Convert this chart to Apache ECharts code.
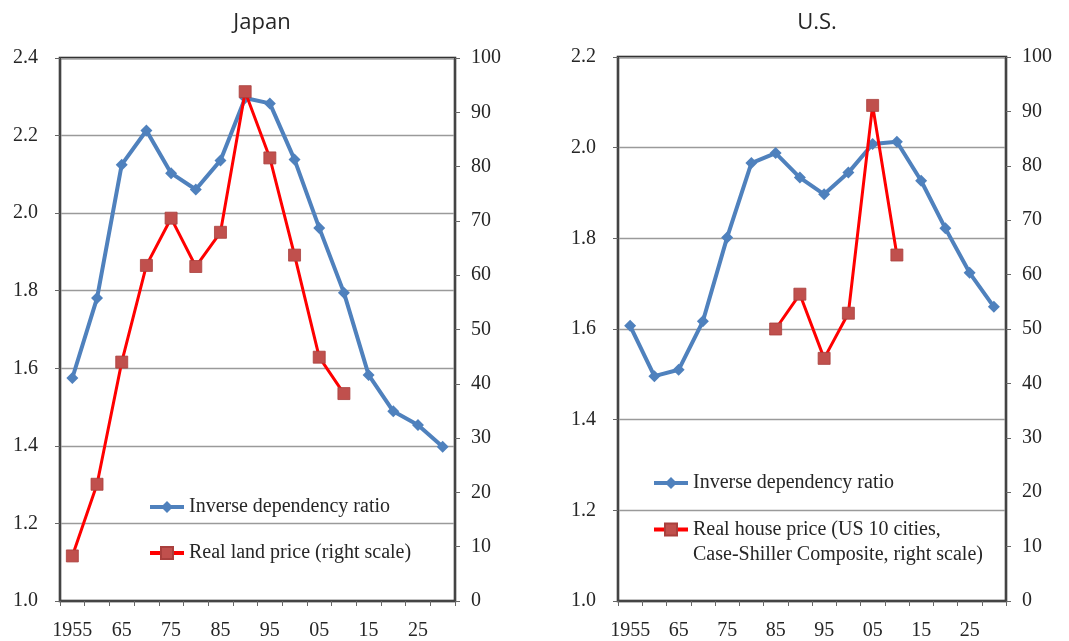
<!DOCTYPE html>
<html>
<head>
<meta charset="utf-8">
<script src="https://cdn.jsdelivr.net/npm/echarts@6/dist/echarts.min.js"></script>
<style>
html,body{margin:0;padding:0;background:#fff;}
#chart{width:1069px;height:641px;}
</style>
</head>
<body>
<div id="chart"></div>
<script>
// ---- data ----
const years = [1955,1960,1965,1970,1975,1980,1985,1990,1995,2000,2005,2010,2015,2020,2025,2030];
const yearLabels = ['1955','','65','','75','','85','','95','','05','','15','','25',''];
const titles = ['Japan', 'U.S.'];

const japanDependency = [1.575,1.781,2.125,2.213,2.103,2.061,2.136,2.297,2.283,2.138,1.962,1.795,1.583,1.489,1.454,1.398];
const japanLandPrice  = [8.3,21.5,44.0,61.8,70.5,61.6,67.9,93.8,81.6,63.7,44.9,38.2,null,null,null,null];

const usDependency = [1.607,1.496,1.51,1.617,1.802,1.966,1.988,1.934,1.897,1.945,2.008,2.013,1.927,1.822,1.724,1.649];
const usHousePrice = [null,null,null,null,null,null,50.0,56.4,44.6,52.9,91.1,63.6,null,null,null,null];

const nameDep = 'Inverse dependency ratio';
const nameLand = 'Real land price (right scale)';
const nameHouse = 'Real house price (US 10 cities,\nCase-Shiller Composite, right scale)';

const leftScales = [{min:1.0,max:2.4,interval:0.2},{min:1.0,max:2.2,interval:0.2}];
const rightScale = {min:0,max:100,interval:10};

// ---- style ----
const serif = '"Liberation Serif", "DejaVu Serif", serif';
const txt = '#262626';
const blue = '#4F81BD';
const red = '#FF0000';
const redMarker = '#C0504D';

const grids = [
  {left:60, top:58, width:395, height:543, show:true, borderColor:'#111', borderWidth:2.5},
  {left:618, top:57, width:388, height:544, show:true, borderColor:'#111', borderWidth:2.5}
];

function xAxisFor(i){
  return {
    type:'category', gridIndex:i, data:years.map(String), boundaryGap:true,
    axisLine:{show:true, lineStyle:{color:'#444', width:2}},
    axisTick:{show:true, interval:0, alignWithLabel:false, length:5, lineStyle:{color:'#666', width:1}},
    axisLabel:{interval:0, margin:20, color:txt, fontFamily:serif, fontSize:20,
      formatter:(v, idx)=> yearLabels[idx]},
    splitLine:{show:false}
  };
}
function leftAxisFor(i){
  const s = leftScales[i];
  return {
    type:'value', gridIndex:i, position:'left', min:s.min, max:s.max, interval:s.interval,
    axisLine:{show:true, lineStyle:{color:'#444', width:2}},
    axisTick:{show:true, length:5, lineStyle:{color:'#666'}},
    axisLabel:{margin:22, color:txt, fontFamily:serif, fontSize:20, formatter:v=>v.toFixed(1)},
    splitLine:{show:true, lineStyle:{color:'#9a9a9a', width:1.3}}
  };
}
function rightAxisFor(i){
  return {
    type:'value', gridIndex:i, position:'right', min:rightScale.min, max:rightScale.max, interval:rightScale.interval,
    axisLine:{show:true, lineStyle:{color:'#444', width:2}},
    axisTick:{show:true, length:5, lineStyle:{color:'#666'}},
    axisLabel:{margin:16, color:txt, fontFamily:serif, fontSize:20},
    splitLine:{show:false}
  };
}
function depSeries(i, data){
  return {name:nameDep, type:'line', xAxisIndex:i, yAxisIndex:i*2, data:data,
    symbol:'diamond', symbolSize:12, lineStyle:{color:blue, width:4}, itemStyle:{color:blue},
    z:3, animation:false};
}
function priceSeries(i, name, data){
  return {name:name, type:'line', xAxisIndex:i, yAxisIndex:i*2+1, data:data,
    symbol:'rect', symbolSize:12, lineStyle:{color:red, width:3},
    itemStyle:{color:redMarker, borderColor:'#A9403D', borderWidth:0.8}, z:4, animation:false};
}
const legendText = {fontFamily:serif, fontSize:20, color:txt, lineHeight:22};

const option = {
  backgroundColor:'#fff',
  animation:false,
  title:[
    {text:titles[0], left:257, top:7, textAlign:'center', textStyle:{fontFamily:'"Open Sans", sans-serif', fontSize:22, fontWeight:'normal', color:txt}},
    {text:titles[1], left:812, top:7, textAlign:'center', textStyle:{fontFamily:'"Open Sans", sans-serif', fontSize:22, fontWeight:'normal', color:txt}}
  ],
  grid:grids,
  xAxis:[xAxisFor(0), xAxisFor(1)],
  yAxis:[leftAxisFor(0), rightAxisFor(0), leftAxisFor(1), rightAxisFor(1)],
  legend:[
    {orient:'vertical', left:143, top:491, itemWidth:34, itemHeight:15, itemGap:24,
      lineStyle:{width:4}, data:[nameDep, nameLand], textStyle:legendText},
    {orient:'vertical', left:647, top:467, itemWidth:34, itemHeight:15,
      lineStyle:{width:4}, data:[nameDep], textStyle:legendText},
    {orient:'vertical', left:647, top:487, itemWidth:34, itemHeight:15,
      lineStyle:{width:4}, data:[nameHouse], formatter:n=>'\n'+n,
      textStyle:{fontFamily:serif, fontSize:20, color:txt, lineHeight:25}}
  ],
  series:[
    depSeries(0, japanDependency),
    priceSeries(0, nameLand, japanLandPrice),
    depSeries(1, usDependency),
    priceSeries(1, nameHouse, usHousePrice)
  ]
};

const chart = echarts.init(document.getElementById('chart'), null, {renderer:'canvas'});
chart.setOption(option);
</script>
</body>
</html>
